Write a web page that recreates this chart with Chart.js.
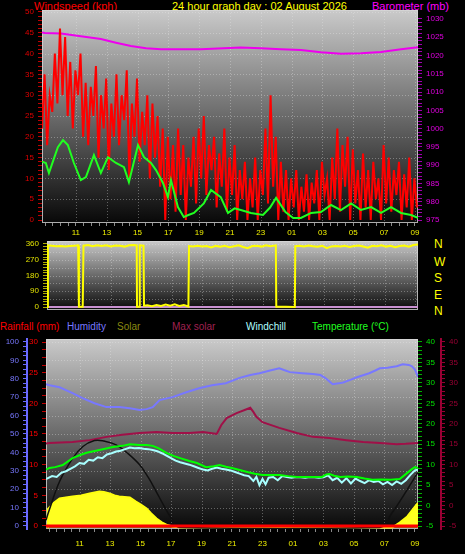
<!DOCTYPE html>
<html>
<head>
<meta charset="utf-8">
<script src="https://cdn.jsdelivr.net/npm/chart.js@4.4.1/dist/chart.umd.min.js"></script>
<style>
  body { margin: 0; background: #000; width: 465px; height: 554px; overflow: hidden; position: relative;
         font-family: 'Liberation Sans', Arial, sans-serif; }
  canvas { position: absolute; left: 0; }
  .t { position: absolute; font-size: 11px; line-height: 12px; white-space: nowrap; }
  .l { position: absolute; font-size: 10px; line-height: 12px; white-space: nowrap; top: 321px; }
  .c { position: absolute; font-size: 12px; line-height: 12px; color: #ffff00; left: 434px; }
</style>
</head>
<body>
<div class="t" style="left:34px;top:0;color:#ff0000">Windspeed (kph)</div>
<div class="t" style="left:172px;top:0;color:#ffff00">24 hour graph day : 02 August 2026</div>
<div class="t" style="left:372px;top:0;color:#ff00ff">Barometer (mb)</div>

<div class="c" style="top:238px">N</div>
<div class="c" style="top:256px">W</div>
<div class="c" style="top:272px">S</div>
<div class="c" style="top:289px">E</div>
<div class="c" style="top:305px">N</div>

<div class="l" style="left:0;color:#ff0000">Rainfall (mm)</div>
<div class="l" style="left:67px;color:#7878ff">Humidity</div>
<div class="l" style="left:117px;color:#8a8a10">Solar</div>
<div class="l" style="left:172px;color:#a02050">Max solar</div>
<div class="l" style="left:246px;color:#b0ffff">Windchill</div>
<div class="l" style="left:312px;color:#20ff20">Temperature (°C)</div>

<canvas id="windChart" width="465" height="240" style="top:0"></canvas>
<canvas id="dirChart" width="465" height="80" style="top:236px"></canvas>
<canvas id="climateChart" width="465" height="218" style="top:336px"></canvas>

<script>
// ---- data (hours since midnight of the first day; 24+ = next morning) ----
const gustStart = 8.8, gustStep = 1 / 6;
const gustSpeed = [
  22, 35, 18, 30, 26, 40,  28, 46, 30, 44, 25, 38,  22, 36, 30, 40, 20, 33,
  18, 32, 25, 37, 15, 30,  22, 34, 12, 28, 20, 35,  18, 30, 24, 36, 10, 28,
  20, 34, 14, 26, 18, 30,  10, 28, 15, 25, 8, 22,   0, 20, 5, 18, 2, 22,
  6, 18, 0, 15, 8, 20,     4, 22, 10, 25, 6, 18,    12, 20, 3, 16, 8, 22,
  2, 15, 6, 18, 0, 12,     5, 14, 0, 10, 3, 15,     0, 12, 6, 22, 4, 30,
  8, 20, 0, 14, 2, 12,     0, 10, 3, 12, 0, 8,      2, 11, 0, 9, 4, 12,
  0, 14, 6, 10, 0, 15,     5, 22, 2, 18, 8, 20,     0, 17, 4, 12, 0, 16,
  3, 12, 0, 14, 5, 10,     0, 18, 4, 15, 2, 12,     6, 14, 0, 11, 3, 15,
  0, 10, 3
];

const avgTimes = [8.8, 9.05, 9.25, 9.55, 9.83, 10.16, 10.48, 10.87, 11.32, 11.65, 12.17, 12.62, 13.08, 13.6,
  14.12, 14.44, 15.03, 15.42, 15.87, 16.2, 16.65, 16.97, 17.17, 17.62, 18.0, 18.3, 18.66, 19.3, 19.77, 20.4,
  20.87, 21.3, 21.7, 22.36, 23.14, 23.6, 23.99, 24.6, 25.1, 25.6, 26.26, 26.9, 27.56, 28.2, 28.86, 29.5,
  30.16, 30.8, 31.45, 32.1, 32.75, 33.2];
const avgSpeed = [14, 13.7, 11.3, 14.5, 17.5, 19.2, 18, 13.7, 9.6, 10.3, 15.6, 11.3, 15.1, 13.7,
  12.7, 9.1, 18, 15.1, 13.7, 12, 8.9, 5.5, 9.6, 3.1, 0.7, 1.2, 1.7, 4, 7.2, 5.5,
  1.7, 2.8, 2.4, 1.7, 1.2, 3.0, 5.3, 1.9, 0.5, 0.5, 1.7, 1.9, 3.6, 2.4, 4, 2.4,
  3.1, 1.7, 3.1, 1.7, 1.2, 0.5];

const baroTimes = [8.8, 8.99, 10.03, 11.32, 12.62, 13.6, 14.57, 15.55, 16.52, 19.1, 21.7, 23.0, 24.3, 25.6,
  26.9, 28.2, 29.5, 30.8, 32.1, 33.2];
const baroMb = [1026.3, 1026.2, 1026, 1025.3, 1024.5, 1023.5, 1022.6, 1022, 1021.7, 1021.7, 1022.2, 1022,
  1021.7, 1021.5, 1020.9, 1020.5, 1020.6, 1021, 1021.7, 1022.3];

const dirTimes = [8.8, 8.86, 9.1, 9.4, 9.7, 10.0, 10.3, 10.6, 10.85, 10.9, 11.15, 11.2, 11.5, 11.8, 12.1, 12.4,
  12.7, 13.0, 13.3, 13.6, 13.9, 14.2, 14.5, 14.7, 14.72, 14.87, 14.9, 15.15, 15.18, 15.4, 15.7, 16.0, 16.3,
  16.6, 16.9, 17.2, 17.5, 17.8, 18.1, 18.14, 18.4, 18.7, 19.0, 19.3, 19.6, 19.9, 20.2, 20.5, 20.8, 21.1,
  21.4, 21.7, 22.0, 22.3, 22.6, 22.9, 23.2, 23.5, 23.85, 23.88, 24.5, 25.1, 25.13, 25.4, 25.7, 26.0, 26.3,
  26.6, 26.9, 27.2, 27.5, 27.8, 28.1, 28.4, 28.7, 29.0, 29.3, 29.6, 29.9, 30.2, 30.5, 30.8, 31.1, 31.4,
  31.7, 32.0, 32.3, 32.6, 32.9, 33.2];
const dirDeg = [0, 352, 350, 347, 349, 346, 348, 350, 352, 2, 2, 350, 354, 347, 352, 349,
  353, 346, 351, 350, 345, 353, 354, 352, 2, 2, 352, 350, 8, 10, 5, 12, 6,
  14, 8, 15, 6, 12, 3, 348, 345, 350, 346, 348, 340, 349, 344, 350, 342, 347,
  352, 343, 336, 348, 350, 345, 352, 347, 352, 2, 1, 0, 348, 350, 346, 351, 347,
  344, 350, 336, 346, 349, 345, 350, 343, 348, 351, 346, 339, 350, 347, 353, 345, 350,
  342, 348, 351, 345, 354, 357];

const humTimes = [8.8, 9.03, 9.69, 10.54, 11.2, 11.98, 12.77, 13.6, 14.3, 14.94, 15.4, 15.8, 16.25, 17.1, 18.0,
  18.9, 19.7, 20.6, 21.5, 22.2, 22.8, 23.5, 24.1, 24.5, 24.8, 25.6, 26.3, 26.8, 27.1, 27.3, 27.6, 28.0,
  28.3, 28.8, 29.2, 30.0, 30.4, 30.7, 31.2, 31.8, 32.2, 32.6, 32.8, 33.0, 33.2];
const humidity = [77, 76.5, 75.4, 72.2, 69.5, 66.7, 64.6, 64.6, 64, 63, 63.5, 64.6, 68.4, 70, 72.7,
  75, 76.5, 77.6, 80.5, 82, 83, 84.5, 85.7, 84.5, 83.6, 83, 82.6, 82, 80.5, 79.2, 77, 77.5,
  78, 79.5, 80.8, 83, 84.5, 85.7, 86, 86.8, 87.9, 87.5, 86.8, 85, 81];

const tempTimes = [8.8, 9.03, 9.4, 9.9, 10.54, 11.0, 11.46, 12.3, 13.2, 13.8, 14.3, 14.94, 15.4, 15.8, 16.2,
  16.7, 17.2, 17.6, 18.2, 18.7, 19.3, 19.8, 20.2, 20.6, 21.0, 21.5, 22.0, 22.5, 23.0, 23.5, 24.1, 24.7,
  25.25, 26.0, 26.9, 27.2, 27.4, 27.7, 28.1, 28.6, 29.2, 29.7, 30.2, 30.8, 31.4, 32.0, 32.5, 32.8, 33.0, 33.2];
const temperature = [8.8, 9.2, 9.4, 9.9, 11.6, 12.3, 12.9, 13.6, 14.3, 14.6, 15.0, 14.8, 14.8, 14.6, 14.0,
  12.9, 12.1, 11.6, 10.9, 10.4, 9.4, 9.6, 9.9, 9.5, 9.2, 8.7, 8.2, 7.8, 7.5, 7.5, 7.5, 7.2,
  7.0, 7.0, 7.0, 7.6, 7.7, 7.3, 7.0, 7.1, 7.0, 6.6, 6.3, 6.4, 6.3, 6.5, 8.0, 8.9, 9.4, 9.2];

const chillTimes = [8.8, 9.2, 9.5, 9.8, 10.1, 10.4, 10.7, 11.0, 11.3, 11.6, 11.9, 12.2, 12.5, 12.8, 13.1, 13.4,
  13.7, 14.0, 14.3, 14.6, 14.9, 15.2, 15.5, 15.8, 16.1, 16.4, 16.7, 17.0, 17.3, 17.6, 17.9, 18.2, 18.5,
  18.8, 19.1, 19.4, 19.7, 20.0, 20.3, 20.6, 20.9, 21.2, 21.5, 21.8, 22.1, 22.4, 22.6, 22.8, 23.0, 23.2,
  23.4, 23.7, 24.0, 24.3, 24.6, 24.9, 25.2, 25.5, 25.8, 26.1, 26.4, 26.7, 27.0, 27.3, 27.6, 27.9, 28.2,
  28.5, 28.8, 29.1, 29.4, 29.7, 30.0, 30.3, 30.6, 30.9, 31.2, 31.5, 31.8, 32.1, 32.4, 32.7, 33.0, 33.2];
const windchill = [6.5, 7.2, 7.0, 8.0, 8.4, 9.0, 9.6, 10.4, 10.2, 11.2, 11.0, 11.8, 11.6, 12.5, 12.8, 13.2,
  13.4, 13.8, 14.2, 14.0, 14.1, 13.9, 13.8, 13.6, 13.3, 12.8, 12.2, 11.6, 11.0, 10.6, 10.3, 10.0, 9.6,
  9.2, 8.8, 8.6, 9.0, 9.3, 9.0, 8.8, 8.6, 8.2, 7.8, 7.4, 7.2, 6.0, 7.0, 5.0, 6.5, 5.2,
  6.8, 7.0, 6.2, 7.2, 7.0, 6.8, 7.0, 6.9, 6.8, 7.0, 6.9, 6.8, 6.9, 7.4, 6.2, 6.8, 5.6,
  6.7, 5.4, 6.6, 6.0, 5.5, 6.2, 5.8, 6.0, 5.2, 5.8, 5.0, 5.9, 5.3, 6.2, 7.5, 8.6, 8.8];

const maxTempTimes = [8.8, 9.03, 10.54, 11.66, 12.77, 13.8, 14.94, 16.05, 17.1, 18.2, 19.1, 19.8, 20.0, 20.3,
  20.65, 21.3, 22.0, 22.2, 22.4, 22.6, 23.0, 24.1, 25.25, 26.3, 27.4, 28.5, 29.6, 30.7, 31.8, 32.4, 33.2];
const maxTemp = [15.2, 15.3, 15.55, 16, 16.8, 17.3, 17.75, 18, 17.75, 17.75, 18, 17.6, 17.5, 19.7,
  21.4, 22.6, 23.6, 23.9, 22.9, 21.7, 20.4, 19, 17.75, 16.8, 16.5, 16, 15.55, 15.3, 15, 15.1, 15.3];

const solarTimes = [8.9, 8.92, 9.3, 9.69, 10.1, 10.54, 11.1, 11.66, 12.3, 12.6, 12.97, 13.3, 13.6, 14.3, 14.7,
  15.05, 15.4, 15.7, 16.05, 16.4, 16.7, 17.1, 17.6, 31.5, 32.0, 32.5, 33.0, 33.2];
const solar = [0, 150, 200, 236, 245, 253, 262, 277, 293, 290, 277, 262, 253, 245, 212,
  185, 155, 115, 73, 42, 24, 8, 0, 0, 40, 90, 171, 200];

const maxSolarTimes = [8.8, 8.98, 9.69, 10.56, 11.22, 11.98, 12.6, 13.4, 14.2, 14.94, 15.5, 16.03, 16.5, 17.02,
  17.57, 30.7, 31.5, 32.3, 32.9, 33.2];
const maxSolar = [60, 130, 375, 565, 660, 709, 705, 674, 600, 511, 410, 293, 185, 76,
  0, 0, 120, 270, 391, 450];

const rainTimes = [8.8, 33.2];
const rainfall = [0, 0];

// ---- ticks ----
const seq = (a, b, s) => { const r = []; for (let v = a; v <= b + 1e-9; v += s) r.push(+v.toFixed(3)); return r; };
const hourTicks = seq(9, 33, 0.5);
const gridHours = [11, 13, 15, 17, 19, 21, 23, 25, 27, 29, 31, 33];
const kphTicks = seq(0, 50, 1), baroTicks = seq(975, 1030, 1), dirTicks = seq(0, 360, 15);
const humTicks = seq(0, 100, 2.5), rainTicks = seq(0, 30, 1.25), tempTicks = seq(-5, 40, 1);

const pts = (xs, ys) => xs.map((x, i) => ({ x, y: ys[i] }));
const gustPts = gustSpeed.map((v, i) => ({ x: gustStart + i * gustStep, y: v }));

Chart.defaults.font.family = "'Liberation Sans', Arial, sans-serif";
Chart.defaults.font.size = 8;

const plotBg = {
  id: 'plotBg',
  beforeDraw(chart, args, opts) {
    const { ctx, chartArea: a, scales } = chart;
    const g = ctx.createLinearGradient(0, a.top, 0, a.bottom);
    g.addColorStop(0, '#cacaca');
    g.addColorStop(0.5, '#6a6a6a');
    g.addColorStop(1, '#080808');
    ctx.save();
    ctx.fillStyle = g;
    ctx.fillRect(a.left, a.top, a.width, a.height);
    ctx.strokeStyle = 'rgba(235,235,235,0.35)';
    ctx.lineWidth = 1;
    ctx.setLineDash([1, 2]);
    const ys = scales[opts.yAxis];
    opts.yLines.forEach(v => {
      const y = Math.round(ys.getPixelForValue(v)) + 0.5;
      ctx.beginPath(); ctx.moveTo(a.left, y); ctx.lineTo(a.right, y); ctx.stroke();
    });
    gridHours.forEach(h => {
      const x = Math.round(scales.x.getPixelForValue(h)) + 0.5;
      ctx.beginPath(); ctx.moveTo(x, a.top); ctx.lineTo(x, a.bottom); ctx.stroke();
    });
    ctx.setLineDash([]);
    ctx.strokeStyle = 'rgba(215,215,215,0.8)';
    ctx.strokeRect(a.left + 0.5, a.top + 0.5, a.width - 1, a.height - 1);
    ctx.restore();
  }
};

function yAxis(pos, min, max, ticks, every, color, tickColor, width, extra) {
  return Object.assign({
    position: pos, min, max,
    afterBuildTicks: s => { s.ticks = ticks.map(v => ({ value: v })); },
    afterFit: s => { s.width = width; s.paddingTop = 0; s.paddingBottom = 0; },
    ticks: { color, autoSkip: false, padding: 4, callback: v => (v % every === 0 ? v : '') },
    grid: { drawOnChartArea: false, color: tickColor, tickLength: 4 },
    border: { display: false }
  }, extra || {});
}

function xAxis(height, pad, show) {
  return {
    type: 'linear', min: 8.8, max: 33.2, display: show,
    afterBuildTicks: s => { s.ticks = hourTicks.map(v => ({ value: v })); },
    afterFit: s => { s.height = height; s.paddingLeft = 0; s.paddingRight = 0; },
    ticks: {
      color: '#f0f000', autoSkip: false, maxRotation: 0, minRotation: 0, padding: pad,
      callback: v => (Number.isInteger(v) && v % 2 === 1 && v >= 11 ? String(v % 24).padStart(2, '0') : '')
    },
    grid: { drawOnChartArea: false, color: '#8a8a8a', tickLength: 3 },
    border: { display: false }
  };
}

const common = {
  responsive: false, animation: false, events: [],
  plugins: { legend: { display: false }, tooltip: { enabled: false } },
  elements: { point: { radius: 0 }, line: { tension: 0, borderWidth: 2 } }
};

// 1. Wind speed + barometer
new Chart(document.getElementById('windChart'), {
  type: 'line',
  data: {
    datasets: [
      { data: pts(avgTimes, avgSpeed), borderColor: '#20ff20', yAxisID: 'y' },
      { data: gustPts, borderColor: '#ff0000', yAxisID: 'y', borderWidth: 2 },
      { data: pts(baroTimes, baroMb), borderColor: '#ee00ee', yAxisID: 'yB' }
    ]
  },
  options: Object.assign({}, common, {
    layout: { padding: { top: 10, left: 0, right: 0, bottom: 0 } },
    plugins: Object.assign({}, common.plugins, { plotBg: { yAxis: 'y', yLines: [5, 10, 15, 20, 25, 30, 35, 40, 45, 50] } }),
    scales: {
      x: xAxis(17, 2, true),
      y: yAxis('left', -0.72, 50.48, kphTicks, 5, '#e00000', '#c00000', 42, {}),
      yB: yAxis('right', 974.18, 1032.46, baroTicks, 5, '#e000e0', '#a000b0', 47, {})
    }
  }),
  plugins: [plotBg]
});

// 2. Wind direction
new Chart(document.getElementById('dirChart'), {
  type: 'line',
  data: {
    datasets: [
      { data: pts(dirTimes, dirDeg), borderColor: '#ffff00', yAxisID: 'y' },
      { data: pts(rainTimes, [0, 0]), borderColor: '#c890d0', yAxisID: 'y' }
    ]
  },
  options: Object.assign({}, common, {
    layout: { padding: { top: 5, left: 0, right: 47, bottom: 6 } },
    plugins: Object.assign({}, common.plugins, { plotBg: { yAxis: 'y', yLines: [45, 90, 135, 180, 225, 270, 315, 360] } }),
    scales: {
      x: xAxis(0, 0, false),
      y: yAxis('left', -17, 377, dirTicks, 90, '#e0e000', '#b0b000', 47, {})
    }
  }),
  plugins: [plotBg]
});

// 3. Rain / humidity / solar / temperature
new Chart(document.getElementById('climateChart'), {
  type: 'line',
  data: {
    datasets: [
      { data: pts(rainTimes, rainfall), borderColor: '#ff0000', borderWidth: 3, yAxisID: 'yRain' },
      { data: pts(tempTimes, temperature), borderColor: '#00ff00', yAxisID: 'yTemp' },
      { data: pts(chillTimes, windchill), borderColor: '#a8ffff', yAxisID: 'yTemp' },
      { data: pts(maxSolarTimes, maxSolar), borderColor: '#101010', borderWidth: 1.5, tension: 0.4, yAxisID: 'ySolar' },
      { data: pts(maxTempTimes, maxTemp), borderColor: '#a01048', yAxisID: 'yMax' },
      { data: pts(humTimes, humidity), borderColor: '#7878ff', yAxisID: 'yHum' },
      { data: pts(solarTimes, solar), borderColor: '#ffff10', backgroundColor: '#ffff20', fill: 'origin', yAxisID: 'ySolar' }
    ]
  },
  options: Object.assign({}, common, {
    layout: { padding: { top: 3, left: 0, right: 0, bottom: 0 } },
    plugins: Object.assign({}, common.plugins, { plotBg: { yAxis: 'yHum', yLines: [10, 20, 30, 40, 50, 60, 70, 80, 90, 100] } }),
    scales: {
      x: xAxis(25, 7, true),
      yHum: yAxis('left', -1.63, 101.6, humTicks, 10, '#7878ff', '#6a6aff', 27,
        { weight: 1, border: { display: true, color: '#6a6aff', width: 2 } }),
      yRain: yAxis('left', -0.49, 30.49, rainTicks, 5, '#ff0000', '#c00000', 19, { weight: 0 }),
      yTemp: yAxis('right', -5.73, 40.73, tempTicks, 5, '#00e000', '#00b000', 23, { weight: 0 }),
      yMax: yAxis('right', -5.73, 40.73, tempTicks, 5, '#990033', '#990033', 24,
        { weight: 1, border: { display: true, color: '#990033', width: 2 } }),
      ySolar: { display: false, min: -12, max: 1536 }
    }
  }),
  plugins: [plotBg]
});
</script>
</body>
</html>
